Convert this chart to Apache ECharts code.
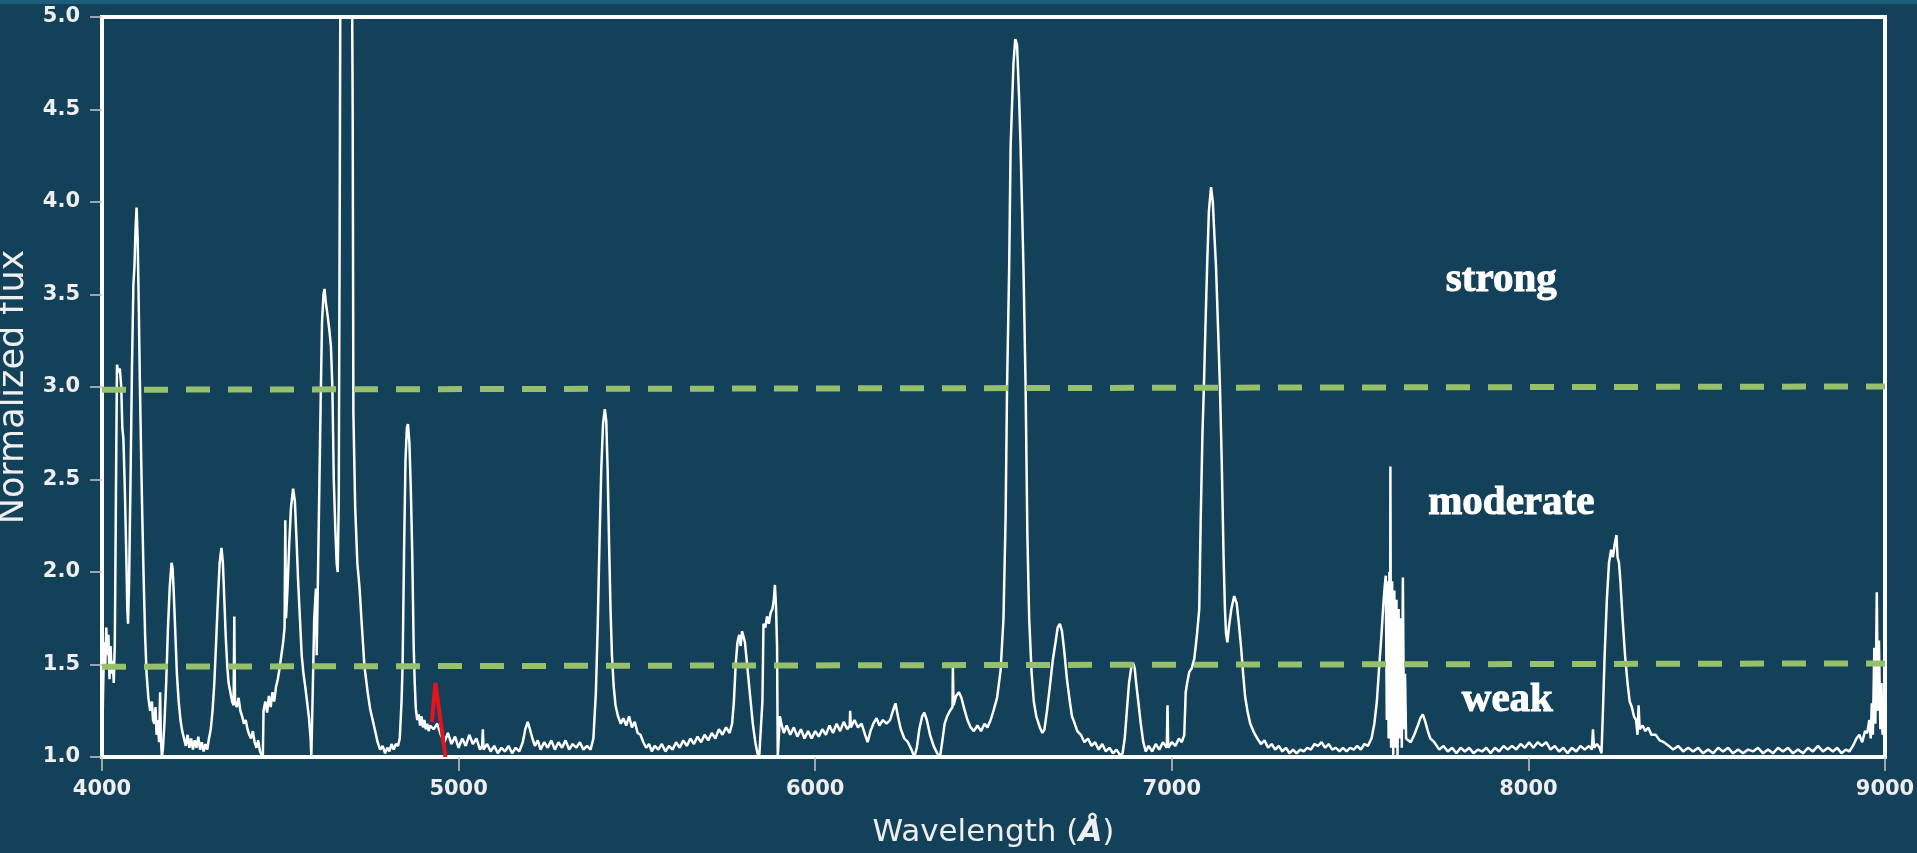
<!DOCTYPE html>
<html>
<head>
<meta charset="utf-8">
<title>Normalized spectrum</title>
<script src="https://cdn.jsdelivr.net/npm/echarts@6/dist/echarts.min.js"></script>
<style>
  html, body { margin: 0; padding: 0; background: #134159; }
  #chart { width: 1917px; height: 853px; }
</style>
</head>
<body>
<div id="chart"></div>
<script>
// [wavelength (Å), normalized flux]
const blueArm = [
  [4000, 1.00], [4003, 1.35], [4006, 1.62], [4009, 1.48], [4012, 1.70], [4015, 1.55], [4018, 1.66],
  [4021, 1.42], [4024, 1.60], [4027, 1.45], [4030, 1.52], [4033, 1.40], [4036, 1.62], [4039, 2.40],
  [4042, 3.12], [4046, 3.08], [4050, 3.10], [4054, 3.00], [4057, 2.78], [4060, 2.72], [4064, 2.45],
  [4068, 2.10], [4071, 1.80], [4073, 1.72], [4076, 1.95], [4080, 2.50], [4084, 3.10], [4088, 3.55],
  [4091, 3.65], [4094, 3.85], [4097, 3.97], [4100, 3.80], [4103, 3.45], [4106, 3.05], [4110, 2.60],
  [4113, 2.30], [4117, 1.95], [4121, 1.65], [4125, 1.45], [4130, 1.32], [4135, 1.25], [4140, 1.30],
  [4143, 1.20], [4147, 1.18], [4150, 1.27], [4153, 1.12], [4157, 1.20], [4160, 1.08], [4163, 1.35],
  [4165, 1.10], [4168, 1.00], [4171, 1.05], [4175, 1.18], [4180, 1.40], [4185, 1.70], [4190, 1.92],
  [4195, 2.05], [4198, 2.02], [4201, 1.90], [4205, 1.70], [4210, 1.45], [4215, 1.30], [4220, 1.20],
  [4225, 1.14], [4230, 1.10], [4235, 1.06], [4240, 1.12], [4245, 1.05], [4250, 1.10], [4255, 1.04],
  [4260, 1.09], [4265, 1.05], [4270, 1.11], [4275, 1.04], [4280, 1.08], [4285, 1.03], [4290, 1.07],
  [4295, 1.04], [4300, 1.10], [4305, 1.15], [4310, 1.25], [4315, 1.40], [4320, 1.62], [4325, 1.85],
  [4330, 2.05], [4335, 2.13], [4339, 2.05], [4343, 1.85], [4347, 1.65], [4351, 1.50], [4355, 1.40],
  [4360, 1.35], [4365, 1.30], [4369, 1.28], [4371, 1.76], [4373, 1.30], [4378, 1.27], [4383, 1.32],
  [4388, 1.25], [4393, 1.22], [4398, 1.18], [4403, 1.20], [4408, 1.15], [4413, 1.12], [4418, 1.10],
  [4423, 1.14], [4428, 1.08], [4433, 1.05], [4438, 1.09], [4443, 1.03], [4448, 1.02], [4451, 1.00],
  [4453, 1.25], [4458, 1.30], [4463, 1.24], [4468, 1.33], [4473, 1.27], [4478, 1.35], [4483, 1.30],
  [4488, 1.38], [4493, 1.42], [4498, 1.48], [4503, 1.55], [4508, 1.62], [4512, 1.70], [4514, 2.28],
  [4516, 1.75], [4520, 1.90], [4525, 2.15], [4530, 2.35], [4536, 2.45], [4541, 2.38], [4546, 2.15],
  [4550, 1.95], [4555, 1.75], [4560, 1.55], [4565, 1.45], [4570, 1.38], [4575, 1.30], [4580, 1.22],
  [4585, 1.10], [4587, 1.00], [4590, 1.00], [4592, 1.45], [4595, 1.74], [4598, 1.85], [4600, 1.91],
  [4602, 1.55], [4605, 1.90], [4609, 2.40], [4613, 2.90], [4617, 3.35], [4621, 3.50], [4624, 3.53],
  [4628, 3.45], [4633, 3.38], [4638, 3.30], [4642, 3.22], [4646, 3.00], [4650, 2.50], [4654, 2.25],
  [4658, 2.05], [4661, 2.00], [4664, 2.40], [4667, 4.20], [4669, 5.60], [4700, 5.60], [4703, 4.50],
  [4705, 2.85], [4710, 2.35], [4716, 2.05], [4722, 1.92], [4729, 1.70], [4736, 1.49], [4745, 1.35],
  [4752, 1.26], [4759, 1.20], [4766, 1.14], [4773, 1.08], [4780, 1.04], [4787, 1.06], [4794, 1.02],
  [4800, 1.05], [4806, 1.03], [4812, 1.07], [4818, 1.04], [4824, 1.07], [4830, 1.06], [4835, 1.10],
  [4840, 1.30], [4843, 1.50], [4847, 2.10], [4851, 2.60], [4855, 2.78], [4858, 2.80], [4862, 2.70],
  [4866, 2.45], [4870, 2.10], [4874, 1.60], [4877, 1.40], [4880, 1.26], [4884, 1.20], [4888, 1.23],
  [4892, 1.17], [4896, 1.22], [4900, 1.16], [4904, 1.20], [4908, 1.15], [4912, 1.18], [4916, 1.14],
  [4920, 1.17], [4930, 1.15], [4940, 1.18], [4950, 1.12], [4960, 1.08]
];

const greenArm = [
  [4970, 1.13], [4980, 1.07], [4990, 1.11], [5000, 1.05], [5010, 1.10], [5020, 1.06], [5030, 1.12],
  [5040, 1.07], [5050, 1.10], [5060, 1.04], [5066, 1.06], [5068, 1.15], [5070, 1.04], [5080, 1.07],
  [5090, 1.03], [5100, 1.06], [5110, 1.02], [5120, 1.05], [5130, 1.03], [5140, 1.06], [5150, 1.02],
  [5160, 1.05], [5170, 1.03], [5180, 1.08], [5187, 1.15], [5194, 1.19], [5200, 1.15], [5207, 1.10],
  [5214, 1.06], [5222, 1.09], [5230, 1.04], [5240, 1.08], [5250, 1.05], [5260, 1.09], [5270, 1.04],
  [5280, 1.08], [5290, 1.05], [5300, 1.09], [5310, 1.04], [5320, 1.07], [5330, 1.05], [5340, 1.08],
  [5350, 1.04], [5360, 1.06], [5370, 1.04], [5378, 1.10], [5385, 1.35], [5390, 1.70], [5395, 2.15],
  [5400, 2.55], [5405, 2.80], [5410, 2.88], [5414, 2.82], [5418, 2.55], [5422, 2.15], [5426, 1.80],
  [5430, 1.55], [5435, 1.38], [5440, 1.28], [5447, 1.22], [5455, 1.18], [5462, 1.21], [5470, 1.17],
  [5478, 1.22], [5486, 1.16], [5494, 1.19], [5502, 1.13], [5510, 1.12], [5518, 1.08], [5526, 1.05],
  [5534, 1.07], [5542, 1.03], [5550, 1.06], [5560, 1.04], [5570, 1.07], [5580, 1.03], [5590, 1.06],
  [5600, 1.04], [5610, 1.08], [5620, 1.05], [5630, 1.09], [5640, 1.06], [5650, 1.10], [5660, 1.07],
  [5670, 1.11], [5680, 1.08], [5690, 1.12], [5700, 1.09], [5710, 1.13], [5720, 1.10], [5730, 1.15],
  [5740, 1.12], [5750, 1.16], [5760, 1.13], [5767, 1.18], [5772, 1.30], [5777, 1.50], [5782, 1.62],
  [5787, 1.66], [5791, 1.60], [5795, 1.68], [5799, 1.69], [5803, 1.62], [5808, 1.52], [5813, 1.42],
  [5818, 1.32], [5825, 1.18], [5832, 1.08], [5838, 1.02], [5843, 1.00], [5848, 1.00], [5852, 1.30],
  [5855, 1.72], [5860, 1.70], [5865, 1.76], [5870, 1.72], [5875, 1.78], [5880, 1.80], [5884, 1.85],
  [5887, 1.93], [5890, 1.82], [5893, 1.60], [5895, 1.00], [5899, 1.00], [5901, 1.22], [5905, 1.18],
  [5912, 1.13], [5920, 1.17], [5930, 1.12], [5940, 1.16], [5950, 1.11], [5960, 1.15], [5970, 1.10],
  [5980, 1.14], [5990, 1.10], [6000, 1.14], [6010, 1.11], [6020, 1.15], [6030, 1.12], [6040, 1.17],
  [6050, 1.13], [6060, 1.18], [6070, 1.14], [6080, 1.19], [6090, 1.15], [6097, 1.17], [6098, 1.25],
  [6100, 1.16], [6110, 1.20], [6120, 1.16], [6130, 1.18], [6140, 1.12], [6147, 1.08], [6155, 1.14],
  [6163, 1.18], [6172, 1.21], [6180, 1.17], [6190, 1.20], [6200, 1.18], [6210, 1.20], [6218, 1.25],
  [6225, 1.29], [6232, 1.22], [6240, 1.15], [6250, 1.10], [6260, 1.08], [6270, 1.04], [6278, 1.00],
  [6285, 1.05], [6292, 1.15], [6300, 1.22], [6306, 1.24], [6313, 1.20], [6322, 1.12], [6332, 1.06],
  [6342, 1.02], [6350, 1.00], [6356, 1.08], [6363, 1.18], [6370, 1.22], [6378, 1.25], [6385, 1.27],
  [6386, 1.49], [6388, 1.28], [6395, 1.33], [6403, 1.35], [6410, 1.32], [6418, 1.26], [6427, 1.20],
  [6436, 1.16], [6445, 1.14], [6455, 1.17], [6465, 1.14], [6475, 1.18], [6483, 1.16], [6492, 1.20],
  [6500, 1.25], [6510, 1.32], [6520, 1.47]
];

const redArm = [
  [6528, 1.75], [6534, 2.30], [6538, 3.00], [6544, 3.65], [6548, 4.30], [6556, 4.75], [6561, 4.88],
  [6566, 4.85], [6572, 4.55], [6576, 4.30], [6584, 3.65], [6590, 3.00], [6595, 2.20], [6600, 1.75],
  [6607, 1.45], [6613, 1.30], [6620, 1.22], [6630, 1.16], [6637, 1.13], [6643, 1.15], [6650, 1.25],
  [6658, 1.38], [6666, 1.52], [6674, 1.62], [6680, 1.70], [6686, 1.72], [6692, 1.68], [6698, 1.58],
  [6706, 1.42], [6714, 1.30], [6720, 1.22], [6726, 1.19], [6735, 1.14], [6745, 1.12], [6755, 1.08],
  [6765, 1.10], [6775, 1.06], [6785, 1.08], [6795, 1.04], [6805, 1.07], [6815, 1.03], [6825, 1.05],
  [6835, 1.02], [6845, 1.04], [6855, 1.01], [6862, 1.02], [6868, 1.10], [6874, 1.25], [6880, 1.40],
  [6886, 1.48], [6891, 1.51], [6896, 1.48], [6900, 1.40], [6906, 1.30], [6913, 1.18], [6920, 1.08],
  [6927, 1.03], [6935, 1.06], [6945, 1.03], [6955, 1.07], [6965, 1.04], [6975, 1.08], [6986, 1.05],
  [6988, 1.28], [6990, 1.05], [7000, 1.08], [7010, 1.06], [7020, 1.10], [7028, 1.08], [7035, 1.12],
  [7039, 1.35], [7043, 1.40], [7049, 1.46], [7056, 1.48], [7063, 1.53], [7070, 1.65], [7077, 1.80],
  [7081, 2.28], [7086, 2.75], [7090, 3.00], [7094, 3.30], [7099, 3.65], [7104, 3.95], [7110, 4.08],
  [7115, 4.00], [7120, 3.80], [7124, 3.65], [7130, 3.30], [7135, 3.00], [7140, 2.60], [7145, 2.10],
  [7149, 1.80], [7152, 1.67], [7156, 1.62], [7160, 1.70], [7167, 1.80], [7175, 1.87], [7182, 1.83],
  [7188, 1.72], [7194, 1.60], [7200, 1.45], [7206, 1.32], [7213, 1.24], [7220, 1.18], [7231, 1.13],
  [7240, 1.10], [7250, 1.07], [7260, 1.09], [7270, 1.05], [7280, 1.07], [7290, 1.04], [7300, 1.06],
  [7310, 1.03], [7320, 1.05], [7330, 1.02], [7340, 1.04], [7350, 1.02], [7360, 1.04], [7370, 1.03],
  [7380, 1.05], [7390, 1.04], [7400, 1.07], [7410, 1.06], [7420, 1.08], [7430, 1.05], [7440, 1.07],
  [7450, 1.04], [7460, 1.05], [7470, 1.03], [7480, 1.05], [7490, 1.03], [7500, 1.05], [7510, 1.04],
  [7520, 1.06], [7530, 1.04], [7540, 1.07], [7550, 1.06], [7560, 1.10], [7568, 1.18], [7575, 1.30],
  [7582, 1.50], [7588, 1.66], [7593, 1.82], [7597, 1.92], [7600, 1.98], [7603, 1.20], [7605, 1.95],
  [7608, 1.10], [7610, 2.00], [7612, 1.15], [7613, 2.57], [7615, 1.05], [7618, 1.95], [7621, 1.00],
  [7624, 1.90], [7627, 1.05], [7630, 1.85], [7633, 1.00], [7636, 1.80], [7639, 1.10], [7642, 1.75],
  [7645, 1.05], [7648, 1.97], [7651, 1.15], [7654, 1.45], [7657, 1.10], [7662, 1.10], [7670, 1.08],
  [7680, 1.12], [7690, 1.17], [7697, 1.21], [7704, 1.23], [7711, 1.19], [7718, 1.14], [7725, 1.10],
  [7736, 1.08], [7750, 1.04], [7762, 1.06], [7774, 1.03], [7786, 1.05], [7798, 1.02], [7810, 1.05],
  [7822, 1.03], [7834, 1.05], [7846, 1.02], [7858, 1.04], [7870, 1.03], [7882, 1.05], [7894, 1.02],
  [7906, 1.05], [7918, 1.03], [7930, 1.06], [7942, 1.04], [7954, 1.06], [7966, 1.04], [7978, 1.07],
  [7990, 1.05], [8002, 1.08], [8014, 1.05], [8026, 1.08], [8038, 1.06], [8050, 1.08], [8062, 1.04],
  [8074, 1.06], [8086, 1.03], [8098, 1.05], [8110, 1.02], [8122, 1.05], [8134, 1.03], [8146, 1.06],
  [8158, 1.04], [8170, 1.06], [8178, 1.04], [8181, 1.15], [8184, 1.05], [8192, 1.07], [8200, 1.05],
  [8205, 1.02], [8209, 1.25], [8214, 1.56], [8220, 1.85], [8226, 2.05], [8232, 2.12], [8237, 2.08],
  [8242, 2.15], [8247, 2.20], [8250, 2.08], [8254, 2.05], [8258, 1.95], [8264, 1.75], [8271, 1.55],
  [8278, 1.40], [8284, 1.30], [8290, 1.27], [8296, 1.22], [8302, 1.20], [8306, 1.12], [8309, 1.28],
  [8312, 1.15], [8320, 1.17], [8328, 1.14], [8336, 1.16], [8345, 1.12], [8357, 1.12], [8368, 1.09],
  [8380, 1.08], [8394, 1.06], [8406, 1.04], [8420, 1.06], [8434, 1.03], [8448, 1.05], [8462, 1.03],
  [8476, 1.05], [8490, 1.02], [8504, 1.04], [8518, 1.02], [8532, 1.05], [8546, 1.03], [8560, 1.05],
  [8574, 1.02], [8588, 1.04], [8602, 1.02], [8616, 1.04], [8630, 1.03], [8644, 1.05], [8658, 1.02],
  [8672, 1.04], [8686, 1.02], [8700, 1.05], [8714, 1.03], [8728, 1.05], [8742, 1.02], [8756, 1.04],
  [8770, 1.02], [8784, 1.05], [8798, 1.03], [8812, 1.06], [8826, 1.03], [8840, 1.05], [8854, 1.03],
  [8866, 1.05], [8878, 1.02], [8890, 1.04], [8900, 1.03], [8910, 1.06], [8920, 1.10], [8928, 1.12],
  [8936, 1.08], [8944, 1.14], [8950, 1.13], [8956, 1.20], [8960, 1.10], [8963, 1.29], [8966, 1.12],
  [8970, 1.59], [8973, 1.18], [8977, 1.89], [8980, 1.25], [8983, 1.63], [8987, 1.15], [8990, 1.40],
  [8993, 1.12], [8996, 1.18], [9000, 1.10]
];

// highlighted feature near 4930 Å
const redMark = [[4925, 1.19], [4935, 1.40], [4963, 1.00]];

// class boundaries (drawn slightly tilted in the original)
const strongCut = [[4000, 2.985], [9000, 3.003]];
const weakCut = [[4000, 1.488], [9000, 1.506]];

const bandLabels = [
  [7924, 3.575, 'strong'],
  [7952, 2.37, 'moderate'],
  [7941, 1.305, 'weak']
];

const xTicks = [4000, 5000, 6000, 7000, 8000, 9000];
const yTicks = [1.0, 1.5, 2.0, 2.5, 3.0, 3.5, 4.0, 4.5, 5.0];

const spectrum = blueArm.concat(greenArm, redArm);

const chart = echarts.init(document.getElementById('chart'));

const tickLabel = {
  color: '#eeeeee',
  fontFamily: 'DejaVu Sans',
  fontWeight: 'bold',
  fontSize: 21
};

chart.setOption({
  animation: false,
  backgroundColor: '#134159',
  graphic: [
    { type: 'rect', left: 0, top: 0, shape: { width: 1917, height: 4 }, style: { fill: '#1b5f7a' } }
  ],
  grid: {
    left: 102,
    right: 32,
    top: 17,
    bottom: 96,
    outerBoundsMode: 'none',
    containLabel: false,
    show: true,
    borderColor: '#ffffff',
    borderWidth: 4,
    backgroundColor: 'transparent'
  },
  xAxis: {
    type: 'value',
    min: xTicks[0],
    max: xTicks[xTicks.length - 1],
    interval: 1000,
    name: 'Wavelength ({b|Å})',
    nameLocation: 'middle',
    nameGap: 60,
    nameTextStyle: {
      color: '#eeeeee',
      fontFamily: 'DejaVu Sans',
      fontSize: 31,
      rich: {
        b: { fontFamily: 'DejaVu Sans', fontSize: 31, fontWeight: 'bold', fontStyle: 'italic', color: '#eeeeee' }
      }
    },
    axisLine: { show: false },
    axisTick: { show: true, length: 14, lineStyle: { color: '#c8c8c8', width: 1.5 } },
    axisLabel: Object.assign({ margin: 22, formatter: v => String(v) }, tickLabel),
    splitLine: { show: false }
  },
  yAxis: {
    type: 'value',
    min: yTicks[0],
    max: yTicks[yTicks.length - 1],
    interval: 0.5,
    name: 'Normalized flux',
    nameLocation: 'middle',
    nameGap: 60,
    nameTextStyle: { color: '#eeeeee', fontFamily: 'DejaVu Sans', fontSize: 35 },
    axisLine: { show: false },
    axisTick: { show: true, length: 12, lineStyle: { color: '#c8c8c8', width: 1.5 } },
    axisLabel: Object.assign({ margin: 22, formatter: v => v.toFixed(1) }, tickLabel),
    splitLine: { show: false }
  },
  series: [
    {
      name: 'spectrum',
      type: 'line',
      data: spectrum,
      showSymbol: false,
      clip: true,
      lineStyle: { color: '#ffffff', width: 2.5 },
      z: 2
    },
    {
      name: 'strong cut',
      type: 'line',
      data: strongCut,
      showSymbol: false,
      lineStyle: { color: '#96c06b', width: 6, type: [24, 18] },
      z: 3
    },
    {
      name: 'weak cut',
      type: 'line',
      data: weakCut,
      showSymbol: false,
      lineStyle: { color: '#96c06b', width: 6, type: [24, 18] },
      z: 3
    },
    {
      name: 'marked line',
      type: 'line',
      data: redMark,
      showSymbol: false,
      lineStyle: { color: '#e8121c', width: 4 },
      z: 4
    },
    {
      name: 'labels',
      type: 'scatter',
      data: bandLabels,
      symbolSize: 0,
      silent: true,
      itemStyle: { opacity: 1 },
      label: {
        show: true,
        position: 'inside',
        formatter: p => p.data[2],
        color: '#ffffff',
        opacity: 1,
        fontFamily: 'Liberation Serif',
        fontWeight: 'bold',
        fontSize: 41,
        textBorderColor: '#ffffff',
        textBorderWidth: 1
      },
      z: 5
    }
  ]
});
</script>
</body>
</html>
